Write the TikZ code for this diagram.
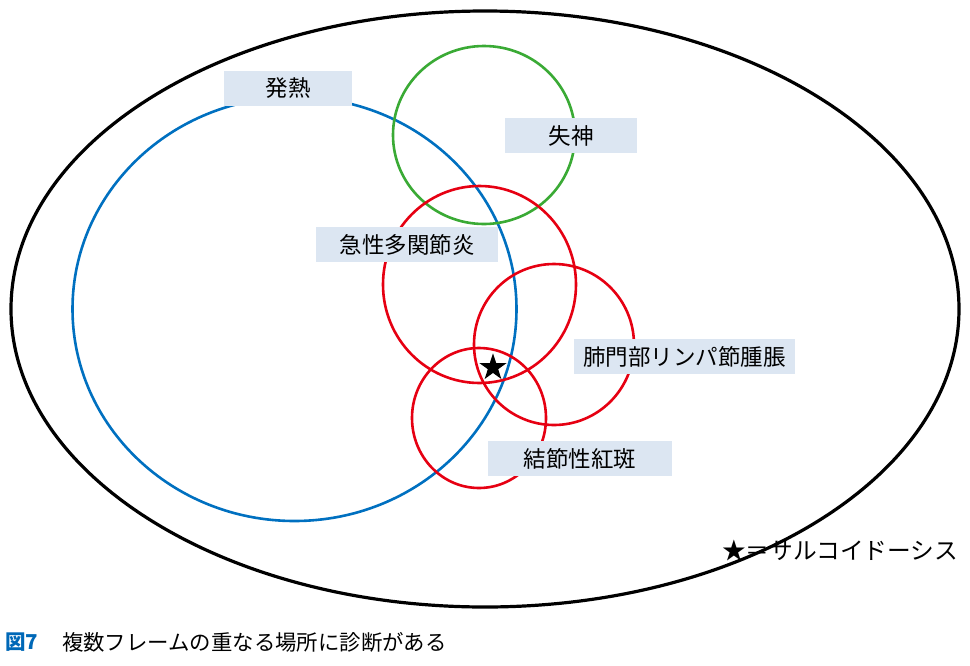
\documentclass[tikz,border=0pt]{standalone}
\usepackage{fontspec}
\setmainfont{Noto Sans CJK JP}
\usetikzlibrary{shapes.geometric}
\definecolor{cblue}{HTML}{0070C0}
\definecolor{cgreen}{HTML}{3AAA35}
\definecolor{cred}{HTML}{E60012}
\definecolor{cbox}{HTML}{DCE6F2}
\definecolor{capblue}{HTML}{0068B7}
\tikzset{
  lbl/.style={fill=cbox, inner sep=0pt, minimum height=35pt, font=\fontsize{22.5}{26}\selectfont, text=black},
  ring/.style={line width=2.6pt},
}
\begin{document}
\begin{tikzpicture}[x=1pt,y=-1pt]
\useasboundingbox (0,0) rectangle (970,665);
% outer ellipse
\draw[line width=3.2pt, black] (485,309) ellipse [x radius=474pt, y radius=298pt];
% blue fever
\draw[ring, cblue] (294.5,309) ellipse [x radius=222pt, y radius=212pt];
% green syncope
\draw[ring, cgreen] (484,135) ellipse [x radius=91pt, y radius=89pt];
% red arthritis
\draw[ring, cred] (479.5,284.5) ellipse [x radius=96.5pt, y radius=98.5pt];
% red BHL
\draw[ring, cred] (554,344.5) ellipse [x radius=80pt, y radius=80.5pt];
% red erythema
\draw[ring, cred] (479,418) ellipse [x radius=67pt, y radius=70pt];
% labels
\node[lbl, minimum width=128pt] (fever) at (288,88.5) {発熱};
\node[lbl, minimum width=132pt] (syncope) at (571,135.5) {失神};
\node[lbl, minimum width=182pt] (arth) at (407,244.5) {急性多関節炎};
\node[lbl, minimum width=221pt] (bhl) at (684.5,356.5) {肺門部リンパ節腫脹};
\node[lbl, minimum width=184pt] (en) at (580,458.5) {結節性紅斑};
% star
\node[star, star points=5, star point ratio=2.618, fill=black, inner sep=0pt, minimum size=28.5pt] (sarc) at (493,367.5) {};
% legend
\node[anchor=west, inner sep=0pt, font=\fontsize{23.7}{27}\selectfont] (legend) at (722,551) {★＝サルコイドーシス};
% caption
\node[anchor=west, inner sep=0pt, font=\fontsize{20.5}{24}\selectfont\bfseries, text=capblue] (fig) at (5,642) {図7};
\node[anchor=west, inner sep=0pt, font=\fontsize{21.4}{25}\selectfont] (cap) at (62,642) {複数フレームの重なる場所に診断がある};
\end{tikzpicture}
\end{document}
